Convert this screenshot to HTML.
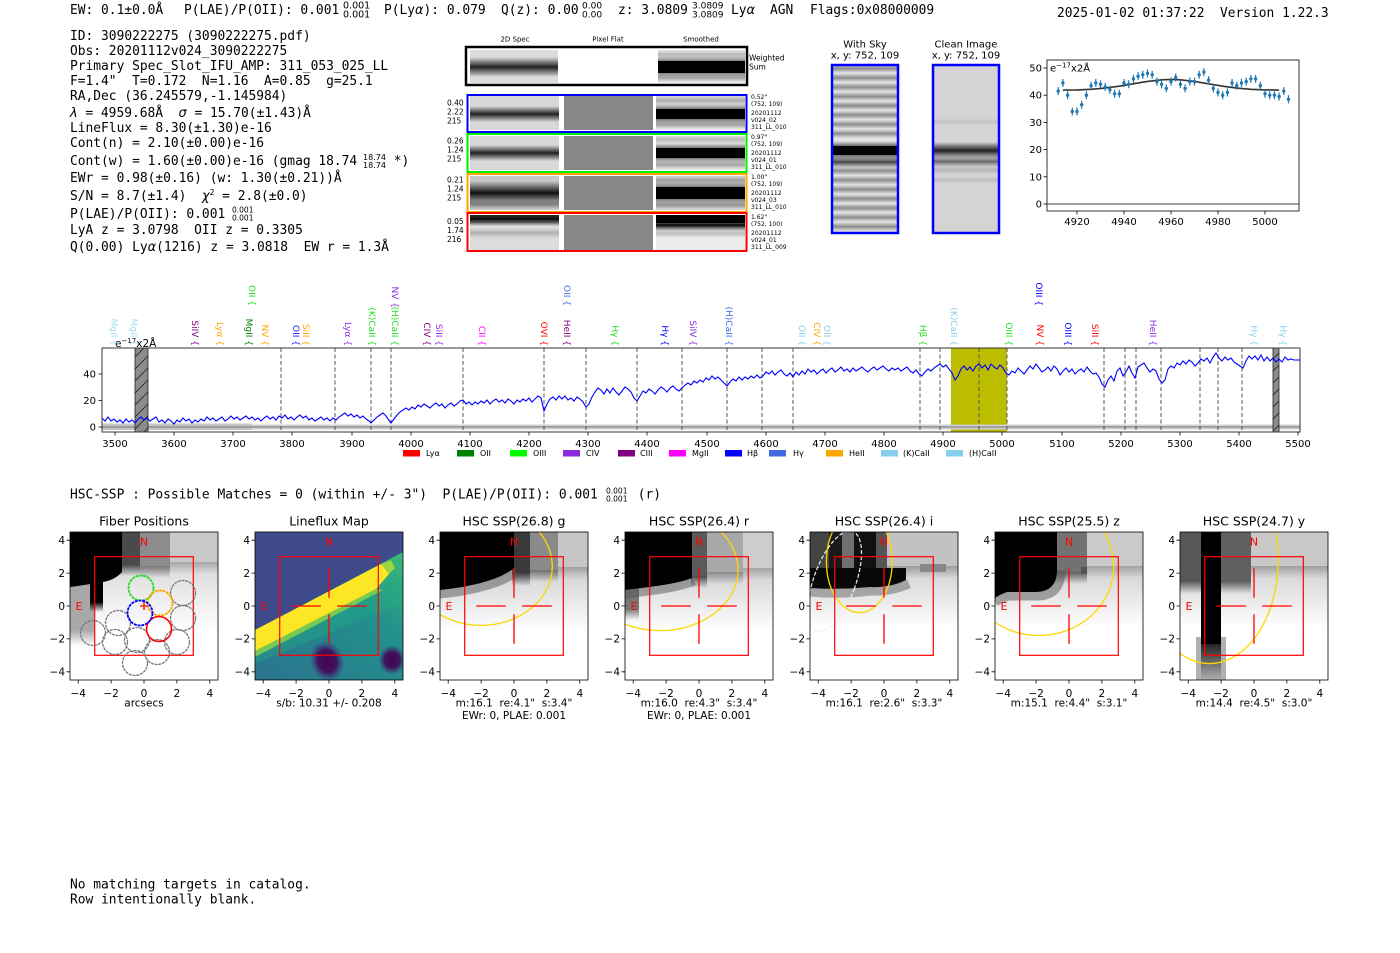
<!DOCTYPE html>
<html><head><meta charset="utf-8"><title>HETDEX detection 3090222275</title>
<style>
html,body{margin:0;padding:0;background:#fff;width:1400px;height:953px;overflow:hidden}
svg{display:block}
text{white-space:pre}
.m{font-family:"DejaVu Sans Mono","Liberation Mono",monospace;font-size:12.9px;fill:#000}
.s{font-family:"DejaVu Sans","Liberation Sans",sans-serif;fill:#000}
.tm{font-family:"DejaVu Sans","Liberation Sans",sans-serif;font-size:10.5px;fill:#000;text-anchor:middle}
.tr{font-family:"DejaVu Sans","Liberation Sans",sans-serif;font-size:10.5px;fill:#000;text-anchor:end}
.tt{font-family:"DejaVu Sans","Liberation Sans",sans-serif;font-size:12.5px;fill:#000;text-anchor:middle}
.lb{font-family:"DejaVu Sans","Liberation Sans",sans-serif;font-size:9px;text-anchor:end;dominant-baseline:central}
.lg{font-family:"DejaVu Sans","Liberation Sans",sans-serif;font-size:8px;fill:#000}
.sm{font-family:"DejaVu Sans","Liberation Sans",sans-serif;font-size:6px;fill:#000}
.nm{font-family:"DejaVu Sans","Liberation Sans",sans-serif;font-size:7.5px;fill:#000}
.rd{font-family:"DejaVu Sans","Liberation Sans",sans-serif;font-size:11px;fill:#ff0000;text-anchor:middle}
</style></head><body>
<svg width="1400" height="953" viewBox="0 0 1400 953" xmlns="http://www.w3.org/2000/svg">
<defs>
<clipPath id="pc"><rect x="0" y="0" width="148" height="148"/></clipPath>
<pattern id="hatch" width="12" height="12" patternUnits="userSpaceOnUse"><path d="M-1,13 L13,-1" stroke="#222" stroke-width="0.8"/></pattern>
<linearGradient id="fadeG" x1="0" y1="0" x2="0" y2="1"><stop offset="0" stop-color="#a8a8a8"/><stop offset="0.4" stop-color="#dadada"/><stop offset="0.8" stop-color="#fff"/></linearGradient>
<linearGradient id="fadeF" x1="0" y1="0" x2="0" y2="1"><stop offset="0" stop-color="#c0c0c0"/><stop offset="0.5" stop-color="#e4e4e4"/><stop offset="1" stop-color="#fff"/></linearGradient>
<linearGradient id="tealG" x1="1" y1="0" x2="0" y2="1"><stop offset="0" stop-color="#3bbb75"/><stop offset="0.35" stop-color="#21918c"/><stop offset="1" stop-color="#2c728e"/></linearGradient>
<linearGradient id="fB" x1="0" y1="0" x2="0" y2="1"><stop offset="0" stop-color="#000"/><stop offset="1" stop-color="#000" stop-opacity="0"/></linearGradient>
<linearGradient id="bnd" x1="0" y1="0" x2="0" y2="1"><stop offset="0" stop-color="#000" stop-opacity="0"/><stop offset="0.5" stop-color="#000"/><stop offset="1" stop-color="#000" stop-opacity="0"/></linearGradient>
<radialGradient id="blob"><stop offset="0" stop-color="#440154"/><stop offset="0.55" stop-color="#440154" stop-opacity="0.85"/><stop offset="1" stop-color="#46327e" stop-opacity="0"/></radialGradient>
</defs>

<!-- ===== header text ===== -->
<text class="m" x="70" y="14">EW: 0.1±0.0Å</text>
<text class="m" x="184" y="14">P(LAE)/P(OII): 0.001</text>
<text class="s" font-size="9.5" x="343" y="8.5">0.001</text>
<text class="s" font-size="9.5" x="343" y="17.5">0.001</text>
<text class="m" x="384" y="14">P(Ly<tspan font-style="italic" font-family="DejaVu Sans">α</tspan>): 0.079</text>
<text class="m" x="501" y="14">Q(z): 0.00</text>
<text class="s" font-size="9" x="582" y="8.5">0.00</text>
<text class="s" font-size="9" x="582" y="17.5">0.00</text>
<text class="m" x="618" y="14">z: 3.0809</text>
<text class="s" font-size="9" x="692" y="8.5">3.0809</text>
<text class="s" font-size="9" x="692" y="17.5">3.0809</text>
<text class="m" x="731" y="14">Ly<tspan font-style="italic" font-family="DejaVu Sans">α</tspan></text>
<text class="m" x="770" y="14">AGN</text>
<text class="m" x="810" y="14">Flags:0x08000009</text>
<text class="m" x="1057" y="17">2025-01-02 01:37:22  Version 1.22.3</text>

<!-- ===== left info block ===== -->
<text class="m" x="70" y="40">ID: 3090222275 (3090222275.pdf)</text>
<text class="m" x="70" y="55">Obs: 20201112v024_3090222275</text>
<text class="m" x="70" y="70">Primary Spec_Slot_IFU_AMP: 311_053_025_LL</text>
<text class="m" x="70" y="85">F=1.4&quot;  T=0.172  N=1.16  A=0.85  g=25.1</text>
<text class="m" x="70" y="100">RA,Dec (36.245579,-1.145984)</text>
<text class="m" x="70" y="117"><tspan font-style="italic" font-family="DejaVu Sans">λ</tspan> = 4959.68Å  <tspan font-style="italic" font-family="DejaVu Sans">σ</tspan> = 15.70(±1.43)Å</text>
<text class="m" x="70" y="132">LineFlux = 8.30(±1.30)e-16</text>
<text class="m" x="70" y="147">Cont(n) = 2.10(±0.00)e-16</text>
<text class="m" x="70" y="165">Cont(w) = 1.60(±0.00)e-16 (gmag 18.74</text>
<text class="s" font-size="8" x="363" y="160">18.74</text>
<text class="s" font-size="8" x="363" y="168">18.74</text>
<text class="m" x="386" y="165"> *)</text>
<text class="m" x="70" y="182">EWr = 0.98(±0.16) (w: 1.30(±0.21))Å</text>
<text class="m" x="70" y="200">S/N = 8.7(±1.4)  <tspan font-style="italic" font-family="DejaVu Sans">χ</tspan><tspan font-size="8" dy="-5">2</tspan><tspan dy="5"> = 2.8(±0.0)</tspan></text>
<text class="m" x="70" y="218">P(LAE)/P(OII): 0.001</text>
<text class="s" font-size="7.5" x="232" y="212.5">0.001</text>
<text class="s" font-size="7.5" x="232" y="220.5">0.001</text>
<text class="m" x="70" y="234">LyA z = 3.0798  OII z = 0.3305</text>
<text class="m" x="70" y="251">Q(0.00) Ly<tspan font-style="italic" font-family="DejaVu Sans">α</tspan>(1216) z = 3.0818  EW r = 1.3Å</text>

<!-- ===== 2D spectra block ===== -->
<text class="s" font-size="7" x="515" y="41.5" text-anchor="middle">2D Spec</text>
<text class="s" font-size="7" x="608" y="41.5" text-anchor="middle">Pixel Flat</text>
<text class="s" font-size="7" x="701" y="41.5" text-anchor="middle">Smoothed</text>
<!-- weighted sum -->
<rect x="466" y="47" width="281" height="38" fill="#fff"/>
<rect x="470" y="50" width="88" height="33" fill="#dcdcdc"/>
<rect x="470" y="57" width="88" height="20" fill="url(#bnd)" opacity="0.85"/>
<rect x="658" y="50" width="87" height="33" fill="#e8e8e8"/>
<rect x="658" y="50" width="87" height="9" fill="url(#bnd)" opacity="0.22"/>
<rect x="658" y="56" width="87" height="22" fill="url(#bnd)"/>
<rect x="658" y="61" width="87" height="12" fill="#000"/>
<rect x="658" y="74" width="87" height="8" fill="url(#bnd)" opacity="0.3"/>
<rect x="466" y="47" width="281" height="38" fill="none" stroke="#000" stroke-width="2.5"/>
<text class="s" font-size="7.5" x="749" y="60.5">Weighted</text>
<text class="s" font-size="7.5" x="749" y="69.5">Sum</text>

<!-- rows -->
<!-- blue -->
<rect x="470" y="96" width="89" height="34" fill="#d8d8d8"/>
<rect x="470" y="106" width="89" height="16" fill="url(#bnd)" opacity="0.85"/>
<rect x="564" y="96" width="89" height="34" fill="#878787"/>
<rect x="656" y="96" width="89" height="34" fill="#e6e6e6"/>
<rect x="656" y="95" width="89" height="11" fill="url(#bnd)" opacity="0.25"/>
<rect x="656" y="104" width="89" height="20" fill="url(#bnd)"/>
<rect x="656" y="109" width="89" height="10" fill="#000"/>
<rect x="656" y="120" width="89" height="9" fill="url(#bnd)" opacity="0.3"/>
<!-- green -->
<rect x="470" y="136" width="89" height="34" fill="#d8d8d8"/>
<rect x="470" y="145" width="89" height="16" fill="url(#bnd)" opacity="0.85"/>
<rect x="564" y="136" width="89" height="34" fill="#878787"/>
<rect x="656" y="136" width="89" height="34" fill="#e6e6e6"/>
<rect x="656" y="135" width="89" height="9" fill="url(#bnd)" opacity="0.2"/>
<rect x="656" y="143" width="89" height="20" fill="url(#bnd)"/>
<rect x="656" y="148" width="89" height="10" fill="#000"/>
<rect x="656" y="160" width="89" height="9" fill="url(#bnd)" opacity="0.3"/>
<!-- orange -->
<rect x="470" y="176" width="89" height="34" fill="#c8c8c8"/>
<rect x="470" y="181" width="89" height="24" fill="url(#bnd)" opacity="0.92"/>
<rect x="470" y="200" width="89" height="9" fill="url(#bnd)" opacity="0.35"/>
<rect x="564" y="176" width="89" height="34" fill="#878787"/>
<rect x="656" y="176" width="89" height="34" fill="#e0e0e0"/>
<rect x="656" y="175" width="89" height="11" fill="url(#bnd)" opacity="0.3"/>
<rect x="656" y="182" width="89" height="22" fill="url(#bnd)"/>
<rect x="656" y="187" width="89" height="12" fill="#000"/>
<rect x="656" y="200" width="89" height="10" fill="url(#bnd)" opacity="0.35"/>
<!-- red -->
<rect x="470" y="215" width="89" height="35" fill="#dcdcdc"/>
<rect x="470" y="215" width="89" height="5" fill="#222"/>
<rect x="470" y="216" width="89" height="10" fill="url(#bnd)" opacity="0.8"/>
<rect x="470" y="228" width="89" height="10" fill="url(#bnd)" opacity="0.2"/>
<rect x="564" y="215" width="89" height="35" fill="#878787"/>
<rect x="656" y="215" width="89" height="35" fill="#ececec"/>
<rect x="656" y="215" width="89" height="8" fill="#000"/>
<rect x="656" y="219" width="89" height="12" fill="url(#bnd)"/>
<rect x="656" y="228" width="89" height="10" fill="url(#bnd)" opacity="0.2"/>

<rect x="559" y="96" width="5" height="34" fill="#fff"/><rect x="653" y="96" width="3" height="34" fill="#fff"/>
<rect x="559" y="136" width="5" height="34" fill="#fff"/><rect x="653" y="136" width="3" height="34" fill="#fff"/>
<rect x="559" y="176" width="5" height="34" fill="#fff"/><rect x="653" y="176" width="3" height="34" fill="#fff"/>
<rect x="559" y="215" width="5" height="35" fill="#fff"/><rect x="653" y="215" width="3" height="35" fill="#fff"/>
<rect x="467.5" y="95" width="279" height="37" fill="none" stroke="#0000ff" stroke-width="2"/>
<rect x="467.5" y="134" width="279" height="38" fill="none" stroke="#00ee00" stroke-width="2"/>
<rect x="467.5" y="174" width="279" height="38" fill="none" stroke="#ffa500" stroke-width="2"/>
<rect x="467.5" y="213" width="279" height="38" fill="none" stroke="#ff0000" stroke-width="2"/>

<text class="nm" x="447" y="105.5">0.40</text><text class="nm" x="447" y="114.5">2.22</text><text class="nm" x="447" y="123.5">215</text>
<text class="nm" x="447" y="143.5">0.26</text><text class="nm" x="447" y="152.5">1.24</text><text class="nm" x="447" y="161.5">215</text>
<text class="nm" x="447" y="182.5">0.21</text><text class="nm" x="447" y="191.5">1.24</text><text class="nm" x="447" y="200.5">215</text>
<text class="nm" x="447" y="224">0.05</text><text class="nm" x="447" y="233">1.74</text><text class="nm" x="447" y="242">216</text>

<text class="sm" x="751" y="99">0.52&quot;</text><text class="sm" x="751" y="106">(752, 109)</text><text class="sm" x="751" y="115">20201112</text><text class="sm" x="751" y="122">v024_02</text><text class="sm" x="751" y="129">311_LL_010</text>
<text class="sm" x="751" y="139">0.97&quot;</text><text class="sm" x="751" y="146">(752, 109)</text><text class="sm" x="751" y="155">20201112</text><text class="sm" x="751" y="162">v024_01</text><text class="sm" x="751" y="169">311_LL_010</text>
<text class="sm" x="751" y="179">1.00&quot;</text><text class="sm" x="751" y="186">(752, 109)</text><text class="sm" x="751" y="195">20201112</text><text class="sm" x="751" y="202">v024_03</text><text class="sm" x="751" y="209">311_LL_010</text>
<text class="sm" x="751" y="219">1.62&quot;</text><text class="sm" x="751" y="226">(752, 100)</text><text class="sm" x="751" y="235">20201112</text><text class="sm" x="751" y="242">v024_01</text><text class="sm" x="751" y="249">311_LL_009</text>

<!-- ===== With Sky / Clean image ===== -->
<text class="s" font-size="10" x="865" y="47.5" text-anchor="middle">With Sky</text>
<text class="s" font-size="10" x="865" y="58.5" text-anchor="middle">x, y: 752, 109</text>
<text class="s" font-size="10" x="966" y="47.5" text-anchor="middle">Clean Image</text>
<text class="s" font-size="10" x="966" y="58.5" text-anchor="middle">x, y: 752, 109</text>
<rect x="832" y="65" width="66" height="168" fill="#e2e2e2"/>
<g opacity="0.38">
<rect x="832" y="64" width="66" height="9" fill="url(#bnd)"/>
<rect x="832" y="73.3" width="66" height="9" fill="url(#bnd)"/>
<rect x="832" y="82.6" width="66" height="9" fill="url(#bnd)"/>
<rect x="832" y="91.9" width="66" height="9" fill="url(#bnd)"/>
<rect x="832" y="101.2" width="66" height="9" fill="url(#bnd)"/>
<rect x="832" y="110.5" width="66" height="9" fill="url(#bnd)"/>
<rect x="832" y="119.8" width="66" height="9" fill="url(#bnd)"/>
<rect x="832" y="129.1" width="66" height="9" fill="url(#bnd)"/>
<rect x="832" y="166.3" width="66" height="9" fill="url(#bnd)"/>
<rect x="832" y="175.6" width="66" height="9" fill="url(#bnd)"/>
<rect x="832" y="184.9" width="66" height="9" fill="url(#bnd)"/>
<rect x="832" y="194.2" width="66" height="9" fill="url(#bnd)"/>
<rect x="832" y="203.5" width="66" height="9" fill="url(#bnd)"/>
<rect x="832" y="212.8" width="66" height="9" fill="url(#bnd)"/>
<rect x="832" y="222.1" width="66" height="9" fill="url(#bnd)"/>
</g>
<rect x="832" y="141" width="66" height="19" fill="url(#bnd)"/>
<rect x="832" y="146" width="66" height="9" fill="#050505"/>
<rect x="832" y="156" width="66" height="12" fill="url(#bnd)" opacity="0.7"/>
<rect x="832" y="65" width="66" height="168" fill="none" stroke="#0000ff" stroke-width="2.5"/>
<rect x="933" y="65" width="66" height="168" fill="#d4d4d4"/>
<rect x="933" y="142" width="66" height="17" fill="url(#bnd)" opacity="0.85"/>
<rect x="933" y="156" width="66" height="11" fill="url(#bnd)" opacity="0.5"/>
<rect x="933" y="166" width="66" height="8" fill="url(#bnd)" opacity="0.15"/>
<rect x="933" y="176" width="66" height="8" fill="url(#bnd)" opacity="0.1"/>
<rect x="933" y="118" width="66" height="8" fill="url(#bnd)" opacity="0.08"/>
<rect x="933" y="65" width="66" height="168" fill="none" stroke="#0000ff" stroke-width="2.5"/>

<!-- ===== zoom line fit plot ===== -->
<rect x="1047" y="60" width="252" height="151" fill="#fff"/>
<line x1="1047" y1="204" x2="1299" y2="204" stroke="#666" stroke-width="1.2"/>
<polyline fill="none" stroke="#333" stroke-width="1.6" points="1062.9,90.1 1077,89.9 1091.1,89.3 1105.2,88.1 1119.3,86.2 1133.4,83.8 1147.5,81.4 1161.6,79.8 1171,79.4 1180.4,79.8 1194.5,81.4 1208.6,83.8 1222.7,86.2 1236.8,88.1 1250.9,89.3 1265,89.9 1279.1,90.1"/>
<path stroke="#1f77b4" stroke-width="1.2" fill="none" d="M1058.2,87.1V95.1M1062.9,79V87M1067.6,91.2V99.2M1072.3,107.5V115.5M1077,107.5V115.5M1081.7,100.7V108.7M1086.4,91.2V99.2M1091.1,81.7V89.7M1095.8,79V87M1100.5,80.3V88.3M1105.2,83V91M1109.9,85.8V93.8M1114.6,89.8V97.8M1119.3,89.8V97.8M1124,79V87M1128.7,80.3V88.3M1133.4,74.9V82.9M1138.1,72.2V80.2M1142.8,70.8V78.8M1147.5,69.4V77.4M1152.2,70.8V78.8M1156.9,77.6V85.6M1161.6,80.3V88.3M1166.3,84.4V92.4M1171,77.6V85.6M1175.7,73.5V81.5M1180.4,80.3V88.3M1185.1,84.4V92.4M1189.8,77.6V85.6M1194.5,77.6V85.6M1199.2,70.8V78.8M1203.9,68.1V76.1M1208.6,76.2V84.2M1213.3,84.4V92.4M1218,88.5V96.5M1222.7,91.2V99.2M1227.4,88.5V96.5M1232.1,79V87M1236.8,81.7V89.7M1241.5,79V87M1246.2,77.6V85.6M1250.9,74.9V82.9M1255.6,74.9V82.9M1260.3,81.7V89.7M1265,89.8V97.8M1269.7,91.2V99.2M1274.4,91.2V99.2M1279.1,92.6V100.6M1283.8,87.1V95.1M1288.5,95.3V103.3"/>
<g fill="#1f77b4">
<circle cx="1058.2" cy="91.1" r="1.7"/><circle cx="1062.9" cy="83" r="1.7"/><circle cx="1067.6" cy="95.2" r="1.7"/><circle cx="1072.3" cy="111.5" r="1.7"/><circle cx="1077" cy="111.5" r="1.7"/><circle cx="1081.7" cy="104.7" r="1.7"/><circle cx="1086.4" cy="95.2" r="1.7"/><circle cx="1091.1" cy="85.7" r="1.7"/><circle cx="1095.8" cy="83" r="1.7"/><circle cx="1100.5" cy="84.3" r="1.7"/><circle cx="1105.2" cy="87" r="1.7"/><circle cx="1109.9" cy="89.8" r="1.7"/><circle cx="1114.6" cy="93.8" r="1.7"/><circle cx="1119.3" cy="93.8" r="1.7"/><circle cx="1124" cy="83" r="1.7"/><circle cx="1128.7" cy="84.3" r="1.7"/><circle cx="1133.4" cy="78.9" r="1.7"/><circle cx="1138.1" cy="76.2" r="1.7"/><circle cx="1142.8" cy="74.8" r="1.7"/><circle cx="1147.5" cy="73.4" r="1.7"/><circle cx="1152.2" cy="74.8" r="1.7"/><circle cx="1156.9" cy="81.6" r="1.7"/><circle cx="1161.6" cy="84.3" r="1.7"/><circle cx="1166.3" cy="88.4" r="1.7"/><circle cx="1171" cy="81.6" r="1.7"/><circle cx="1175.7" cy="77.5" r="1.7"/><circle cx="1180.4" cy="84.3" r="1.7"/><circle cx="1185.1" cy="88.4" r="1.7"/><circle cx="1189.8" cy="81.6" r="1.7"/><circle cx="1194.5" cy="81.6" r="1.7"/><circle cx="1199.2" cy="74.8" r="1.7"/><circle cx="1203.9" cy="72.1" r="1.7"/><circle cx="1208.6" cy="80.2" r="1.7"/><circle cx="1213.3" cy="88.4" r="1.7"/><circle cx="1218" cy="92.5" r="1.7"/><circle cx="1222.7" cy="95.2" r="1.7"/><circle cx="1227.4" cy="92.5" r="1.7"/><circle cx="1232.1" cy="83" r="1.7"/><circle cx="1236.8" cy="85.7" r="1.7"/><circle cx="1241.5" cy="83" r="1.7"/><circle cx="1246.2" cy="81.6" r="1.7"/><circle cx="1250.9" cy="78.9" r="1.7"/><circle cx="1255.6" cy="78.9" r="1.7"/><circle cx="1260.3" cy="85.7" r="1.7"/><circle cx="1265" cy="93.8" r="1.7"/><circle cx="1269.7" cy="95.2" r="1.7"/><circle cx="1274.4" cy="95.2" r="1.7"/><circle cx="1279.1" cy="96.6" r="1.7"/><circle cx="1283.8" cy="91.1" r="1.7"/><circle cx="1288.5" cy="99.3" r="1.7"/>
</g>
<rect x="1047" y="60" width="252" height="151" fill="none" stroke="#333" stroke-width="1"/>
<text class="s" font-size="10" x="1050" y="71.5">e<tspan font-size="7" dy="-4">−17</tspan><tspan dy="4">x2Å</tspan></text>
<g stroke="#000" stroke-width="0.8">
<line x1="1043.5" y1="204" x2="1047" y2="204"/><line x1="1043.5" y1="176.8" x2="1047" y2="176.8"/><line x1="1043.5" y1="149.6" x2="1047" y2="149.6"/><line x1="1043.5" y1="122.4" x2="1047" y2="122.4"/><line x1="1043.5" y1="95.2" x2="1047" y2="95.2"/><line x1="1043.5" y1="68" x2="1047" y2="68"/>
<line x1="1077" y1="211" x2="1077" y2="214.5"/><line x1="1124" y1="211" x2="1124" y2="214.5"/><line x1="1171" y1="211" x2="1171" y2="214.5"/><line x1="1218" y1="211" x2="1218" y2="214.5"/><line x1="1265" y1="211" x2="1265" y2="214.5"/>
</g>
<g class="s" font-size="10">
<text x="1042" y="207.5" text-anchor="end">0</text><text x="1042" y="180.3" text-anchor="end">10</text><text x="1042" y="153.1" text-anchor="end">20</text><text x="1042" y="125.9" text-anchor="end">30</text><text x="1042" y="98.7" text-anchor="end">40</text><text x="1042" y="71.5" text-anchor="end">50</text>
<text x="1077" y="225" text-anchor="middle">4920</text><text x="1124" y="225" text-anchor="middle">4940</text><text x="1171" y="225" text-anchor="middle">4960</text><text x="1218" y="225" text-anchor="middle">4980</text><text x="1265" y="225" text-anchor="middle">5000</text>
</g>

<!-- ===== main spectrum ===== -->
<rect x="102" y="348" width="1198" height="84" fill="#fff"/>
<rect x="951" y="348" width="56" height="84" fill="#bdbd00"/>
<rect x="102" y="424.5" width="1198" height="5" fill="#cfcfcf"/>
<rect x="102" y="423.5" width="150" height="6.5" fill="#c4c4c4"/>
<line x1="102" y1="427" x2="1300" y2="427" stroke="#777" stroke-width="1"/>
<g stroke="#555" stroke-width="1" stroke-dasharray="4 2.5">
<line x1="281" y1="348" x2="281" y2="432"/><line x1="335" y1="348" x2="335" y2="432"/><line x1="371" y1="348" x2="371" y2="432"/><line x1="391" y1="348" x2="391" y2="432"/><line x1="463" y1="348" x2="463" y2="432"/><line x1="544" y1="348" x2="544" y2="432"/><line x1="586" y1="348" x2="586" y2="432"/><line x1="637" y1="348" x2="637" y2="432"/><line x1="682" y1="348" x2="682" y2="432"/><line x1="727" y1="348" x2="727" y2="432"/><line x1="762" y1="348" x2="762" y2="432"/><line x1="793" y1="348" x2="793" y2="432"/><line x1="920" y1="348" x2="920" y2="432"/><line x1="940" y1="348" x2="940" y2="432"/><line x1="979" y1="348" x2="979" y2="432"/><line x1="1007" y1="348" x2="1007" y2="432"/><line x1="1104" y1="348" x2="1104" y2="432"/><line x1="1125" y1="348" x2="1125" y2="432"/><line x1="1136" y1="348" x2="1136" y2="432"/><line x1="1161" y1="348" x2="1161" y2="432"/><line x1="1200" y1="348" x2="1200" y2="432"/><line x1="1218" y1="348" x2="1218" y2="432"/><line x1="1242" y1="348" x2="1242" y2="432"/>
</g>
<rect x="135" y="348" width="13" height="84" fill="#8c8c8c" stroke="#222" stroke-width="0.8"/>
<rect x="135" y="348" width="13" height="84" fill="url(#hatch)"/>
<rect x="1273" y="348" width="6" height="84" fill="#8c8c8c" stroke="#222" stroke-width="0.8"/>
<rect x="1273" y="348" width="6" height="84" fill="url(#hatch)"/>
<polyline fill="none" stroke="#0000ff" stroke-width="1.1" points="102,418 105,421 108,417 111,421 114,419 117,422 120,420 123,423 126,419 129,422 132,420 135,423 138,419 141,417 144,420 147,418 150,421 153,419 156,417 159,422 162,420 165,423 168,419 171,421 174,424 177,420 180,422 183,418 186,421 189,419 192,423 195,420 198,422 201,419 204,421 207,417 210,420 213,418 216,421 219,419 222,417 225,421 228,419 231,416 234,419 237,417 240,420 243,418 246,416 249,419 252,417 255,420 258,418 261,421 264,418 267,416 270,419 273,417 276,420 279,416 282,418 285,415 288,419 291,417 294,420 297,417 300,415 303,418 306,416 309,420 312,418 315,421 318,419 321,417 324,420 327,418 330,421 333,418 336,420 339,417 342,415 345,413 348,416 351,414 354,417 357,415 360,418 363,416 366,419 369,421 371,423 374,420 377,417 380,415 383,413 386,416 388,419 391,423 394,419 397,415 400,412 403,410 406,408 409,410 412,407 415,409 418,405 421,407 424,404 427,406 430,408 433,405 436,403 439,406 442,404 445,408 448,405 451,403 454,406 457,404 460,401 463,400 466,404 469,402 472,405 475,402 478,404 481,401 484,403 487,400 490,404 493,401 496,399 499,402 502,400 505,403 508,399 511,401 514,404 517,400 520,402 523,399 526,401 529,398 532,402 535,399 538,396 541,398 544,411 547,404 550,399 553,397 556,400 559,396 562,399 565,396 568,400 571,398 574,401 577,397 580,399 583,402 586,407 589,404 592,397 595,392 598,388 601,390 604,394 607,389 610,393 613,388 616,392 619,395 622,391 625,387 628,389 631,392 634,398 637,401 640,396 643,391 646,393 649,389 652,391 655,394 658,390 661,387 664,389 667,392 670,388 673,386 676,389 679,391 682,388 685,385 688,383 691,385 694,381 697,383 700,380 703,382 706,378 709,380 712,376 715,379 718,377 721,380 724,383 727,386 730,382 733,379 736,381 739,377 742,380 745,377 748,379 751,376 754,378 757,375 760,378 763,376 766,372 769,374 772,371 775,375 778,372 781,370 784,374 787,376 790,373 793,377 796,372 799,375 802,371 805,374 808,369 811,372 814,370 817,374 820,371 823,369 826,373 829,370 832,368 835,372 838,370 841,367 844,371 847,369 850,372 853,368 856,371 859,369 862,367 865,370 868,372 871,369 874,367 877,370 880,368 883,366 886,369 889,371 892,368 895,370 898,368 901,371 904,369 907,367 910,371 913,373 916,370 919,374 922,376 925,372 928,369 931,371 934,368 937,366 940,364 943,367 946,365 949,369 952,373 955,380 958,376 961,369 964,366 967,370 970,367 973,371 976,366 979,364 982,368 985,365 988,370 991,364 994,367 997,369 1000,365 1003,368 1006,373 1009,375 1012,371 1015,373 1018,368 1021,371 1024,374 1027,370 1030,366 1033,369 1036,364 1039,368 1042,372 1045,370 1048,367 1051,371 1054,366 1057,369 1060,375 1063,371 1066,368 1069,372 1072,369 1075,374 1078,371 1081,369 1084,372 1087,367 1090,371 1093,374 1096,373 1099,377 1102,384 1105,387 1108,380 1111,376 1114,381 1117,371 1120,368 1123,376 1126,372 1129,366 1132,373 1135,378 1138,367 1141,365 1144,363 1147,368 1150,372 1153,369 1156,371 1159,379 1162,383 1165,380 1168,369 1171,366 1174,368 1177,363 1180,365 1183,361 1186,364 1189,360 1192,362 1195,366 1198,363 1201,359 1204,361 1207,358 1210,363 1213,357 1216,353 1219,358 1222,361 1225,357 1228,360 1231,358 1234,362 1237,364 1240,366 1243,368 1246,361 1249,356 1252,359 1255,356 1258,360 1261,355 1264,361 1267,357 1270,361 1273,358 1276,362 1279,359 1282,362 1285,357 1288,360 1291,359 1294,360 1297,360 1300,360"/>
<rect x="102" y="348" width="1198" height="84" fill="none" stroke="#333" stroke-width="1"/>
<text class="s" font-size="10.5" x="115" y="347">e<tspan font-size="7" dy="-4">−17</tspan><tspan dy="4">x2Å</tspan></text>
<g stroke="#000" stroke-width="0.8">
<line x1="98.5" y1="427" x2="102" y2="427"/><line x1="98.5" y1="400.5" x2="102" y2="400.5"/><line x1="98.5" y1="374" x2="102" y2="374"/>
<line x1="115" y1="432" x2="115" y2="435.5"/><line x1="174" y1="432" x2="174" y2="435.5"/><line x1="233" y1="432" x2="233" y2="435.5"/><line x1="292" y1="432" x2="292" y2="435.5"/><line x1="352" y1="432" x2="352" y2="435.5"/><line x1="411" y1="432" x2="411" y2="435.5"/><line x1="470" y1="432" x2="470" y2="435.5"/><line x1="529" y1="432" x2="529" y2="435.5"/><line x1="588" y1="432" x2="588" y2="435.5"/><line x1="647" y1="432" x2="647" y2="435.5"/><line x1="707" y1="432" x2="707" y2="435.5"/><line x1="766" y1="432" x2="766" y2="435.5"/><line x1="825" y1="432" x2="825" y2="435.5"/><line x1="884" y1="432" x2="884" y2="435.5"/><line x1="943" y1="432" x2="943" y2="435.5"/><line x1="1002" y1="432" x2="1002" y2="435.5"/><line x1="1062" y1="432" x2="1062" y2="435.5"/><line x1="1121" y1="432" x2="1121" y2="435.5"/><line x1="1180" y1="432" x2="1180" y2="435.5"/><line x1="1239" y1="432" x2="1239" y2="435.5"/><line x1="1298" y1="432" x2="1298" y2="435.5"/>
</g>
<g class="s" font-size="10" text-anchor="middle">
<text x="96" y="430.5" text-anchor="end">0</text><text x="96" y="404" text-anchor="end">20</text><text x="96" y="377.5" text-anchor="end">40</text>
<text x="115" y="447">3500</text><text x="174" y="447">3600</text><text x="233" y="447">3700</text><text x="292" y="447">3800</text><text x="352" y="447">3900</text><text x="411" y="447">4000</text><text x="470" y="447">4100</text><text x="529" y="447">4200</text><text x="588" y="447">4300</text><text x="647" y="447">4400</text><text x="707" y="447">4500</text><text x="766" y="447">4600</text><text x="825" y="447">4700</text><text x="884" y="447">4800</text><text x="943" y="447">4900</text><text x="1002" y="447">5000</text><text x="1062" y="447">5100</text><text x="1121" y="447">5200</text><text x="1180" y="447">5300</text><text x="1239" y="447">5400</text><text x="1298" y="447">5500</text>
</g>

<!-- line labels -->
<g class="lb">
<text transform="translate(113,346) rotate(90)" fill="#87ceeb" opacity="0.75">MgII {</text>
<text transform="translate(133,346) rotate(90)" fill="#87ceeb" opacity="0.75">MgII {</text>
<text transform="translate(194,346) rotate(90)" fill="#800080">SiIV {</text>
<text transform="translate(219,346) rotate(90)" fill="#ffa500">Lyα {</text>
<text transform="translate(248,346) rotate(90)" fill="#008000">MgII {</text>
<text transform="translate(264,346) rotate(90)" fill="#ffa500">NV {</text>
<text transform="translate(295,346) rotate(90)" fill="#2020ff">OII {</text>
<text transform="translate(305,346) rotate(90)" fill="#ffa500">SiII {</text>
<text transform="translate(347,346) rotate(90)" fill="#8a2be2">Lyα {</text>
<text transform="translate(371,346) rotate(90)" fill="#22dd22">(K)CaII {</text>
<text transform="translate(394,346) rotate(90)" fill="#22dd22">(H)CaII {</text>
<text transform="translate(426,346) rotate(90)" fill="#800080">CIV {</text>
<text transform="translate(438,346) rotate(90)" fill="#8a2be2">SiII {</text>
<text transform="translate(481,346) rotate(90)" fill="#ff00ff">CII {</text>
<text transform="translate(543,346) rotate(90)" fill="#ff0000">OVI {</text>
<text transform="translate(566,346) rotate(90)" fill="#800080">HeII {</text>
<text transform="translate(614,346) rotate(90)" fill="#22dd22">Hγ {</text>
<text transform="translate(664,346) rotate(90)" fill="#0000ff">Hγ {</text>
<text transform="translate(692,346) rotate(90)" fill="#8a2be2">SiIV {</text>
<text transform="translate(728,346) rotate(90)" fill="#4169e1">(H)CaII {</text>
<text transform="translate(801,346) rotate(90)" fill="#87ceeb">OII {</text>
<text transform="translate(816,346) rotate(90)" fill="#ffa500">CIV {</text>
<text transform="translate(826,346) rotate(90)" fill="#87ceeb">OII {</text>
<text transform="translate(922,346) rotate(90)" fill="#22dd22">Hβ {</text>
<text transform="translate(953,346) rotate(90)" fill="#87ceeb">(K)CaII {</text>
<text transform="translate(1008,346) rotate(90)" fill="#22dd22">OIII {</text>
<text transform="translate(1039,346) rotate(90)" fill="#ff0000">NV {</text>
<text transform="translate(1067,346) rotate(90)" fill="#0000ff">OIII {</text>
<text transform="translate(1094,346) rotate(90)" fill="#ff0000">SiII {</text>
<text transform="translate(1152,346) rotate(90)" fill="#8a2be2">HeII {</text>
<text transform="translate(1253,346) rotate(90)" fill="#87ceeb">Hγ {</text>
<text transform="translate(1282,346) rotate(90)" fill="#87ceeb">Hγ {</text>
<text transform="translate(251,306) rotate(90)" fill="#22dd22">OII {</text>
<text transform="translate(394,308) rotate(90)" fill="#8a2be2">NV {</text>
<text transform="translate(566,306) rotate(90)" fill="#4169e1">OII {</text>
<text transform="translate(1038,306) rotate(90)" fill="#0000ff">OIII {</text>
</g>

<!-- legend -->
<rect x="403" y="450" width="17" height="6.5" fill="#ff0000"/><text class="lg" x="426" y="456">Lyα</text>
<rect x="457" y="450" width="17" height="6.5" fill="#008000"/><text class="lg" x="480" y="456">OII</text>
<rect x="510" y="450" width="17" height="6.5" fill="#00ff00"/><text class="lg" x="533" y="456">OIII</text>
<rect x="563" y="450" width="17" height="6.5" fill="#8a2be2"/><text class="lg" x="586" y="456">CIV</text>
<rect x="618" y="450" width="17" height="6.5" fill="#800080"/><text class="lg" x="640" y="456">CIII</text>
<rect x="669" y="450" width="17" height="6.5" fill="#ff00ff"/><text class="lg" x="692" y="456">MgII</text>
<rect x="725" y="450" width="17" height="6.5" fill="#0000ff"/><text class="lg" x="747" y="456">Hβ</text>
<rect x="769" y="450" width="17" height="6.5" fill="#4169e1"/><text class="lg" x="793" y="456">Hγ</text>
<rect x="826" y="450" width="17" height="6.5" fill="#ffa500"/><text class="lg" x="849" y="456">HeII</text>
<rect x="881" y="450" width="17" height="6.5" fill="#87ceeb"/><text class="lg" x="903" y="456">(K)CaII</text>
<rect x="946" y="450" width="17" height="6.5" fill="#87ceeb"/><text class="lg" x="969" y="456">(H)CaII</text>

<!-- ===== HSC header ===== -->
<text class="m" x="70" y="498.5">HSC-SSP : Possible Matches = 0 (within +/- 3&quot;)  P(LAE)/P(OII): 0.001</text>
<text class="s" font-size="7.5" x="606" y="493.5">0.001</text>
<text class="s" font-size="7.5" x="606" y="501.5">0.001</text>
<text class="m" x="630" y="498.5"> (r)</text>

<!-- ===== Panel 1: Fiber Positions ===== -->
<g transform="translate(70,532)">
<g clip-path="url(#pc)">
<rect width="148" height="148" fill="#fff"/>
<rect x="0" y="0" width="148" height="100" fill="url(#fadeF)"/>
<rect x="0" y="48" width="24" height="50" fill="#a8a8a8"/>
<rect x="0" y="98" width="24" height="16" fill="url(#fB)" opacity="0.34"/>
<rect x="50" y="0" width="20" height="32" fill="#4a4a4a"/>
<rect x="50" y="32" width="20" height="12" fill="url(#fB)" opacity="0.7"/>
<rect x="70" y="0" width="30" height="34" fill="#8c8c8c"/>
<rect x="70" y="34" width="30" height="12" fill="url(#fB)" opacity="0.45"/>
<rect x="100" y="0" width="48" height="30" fill="#c8c8c8"/>
<rect x="100" y="30" width="48" height="12" fill="url(#fB)" opacity="0.22"/>
<path d="M0,0 H52 V40 Q45,48 33,50 V70 H20 V52 Q8,54 0,55 Z" fill="#000"/>
<rect x="20" y="70" width="13" height="10" fill="url(#fB)"/>
<rect x="24.7" y="24.7" width="98.6" height="98.6" fill="none" stroke="#ff0000" stroke-width="1.2"/>
<g fill="none" stroke="#7a7a7a" stroke-width="1.3" stroke-dasharray="3 0.8">
<circle cx="113" cy="61" r="12.5"/><circle cx="113" cy="86" r="12.5"/><circle cx="107" cy="110" r="12.5"/><circle cx="87" cy="120" r="12.5"/><circle cx="65" cy="131" r="12.5"/><circle cx="45" cy="110" r="12.5"/><circle cx="23" cy="101" r="12.5"/><circle cx="48" cy="91" r="12.5"/><circle cx="67" cy="108" r="12.5"/>
</g>
<circle cx="71" cy="56" r="12.5" fill="none" stroke="#22dd22" stroke-width="1.8" stroke-dasharray="3 0.8"/>
<circle cx="90" cy="71" r="12.5" fill="none" stroke="#ffa500" stroke-width="1.8" stroke-dasharray="3 0.8"/>
<circle cx="89" cy="97" r="12.5" fill="none" stroke="#ff0000" stroke-width="1.6"/>
<circle cx="70" cy="81" r="12.5" fill="none" stroke="#0000ff" stroke-width="1.8" stroke-dasharray="3 0.8"/>
<path d="M70,74 H78 M74,70 V78" stroke="#ff0000" stroke-width="1.3"/>
<text class="rd" x="74" y="13.5">N</text>
<text class="rd" x="9" y="78">E</text>
</g>
<rect width="148" height="148" fill="none" stroke="#000" stroke-width="0.8"/>
<path d="M8.2,148V151.5M41.1,148V151.5M74,148V151.5M106.9,148V151.5M139.8,148V151.5M0,8.2H-3.5M0,41.1H-3.5M0,74H-3.5M0,106.9H-3.5M0,139.8H-3.5" stroke="#000" stroke-width="0.8"/>
<text class="tm" x="8.2" y="165">−4</text><text class="tm" x="41.1" y="165">−2</text><text class="tm" x="74" y="165">0</text><text class="tm" x="106.9" y="165">2</text><text class="tm" x="139.8" y="165">4</text>
<text class="tr" x="-5" y="12">4</text><text class="tr" x="-5" y="44.9">2</text><text class="tr" x="-5" y="77.8">0</text><text class="tr" x="-5" y="110.7">−2</text><text class="tr" x="-5" y="143.6">−4</text>
<text class="tt" x="74" y="-6.5">Fiber Positions</text>
<text class="tm" x="74" y="174.5">arcsecs</text>
</g>

<!-- ===== Panel 2: Lineflux Map ===== -->
<g transform="translate(255,532)">
<g clip-path="url(#pc)">
<rect width="148" height="148" fill="#3e4a89"/>
<path d="M0,98 L148,20 L148,148 L0,148 Z" fill="url(#tealG)"/>
<path d="M0,118 L122,56 L148,42 L148,70 L0,132 Z" fill="#22a884" opacity="0.45"/>
<path d="M0,119 L121,57 L128,58 L0,125 Z" fill="#8fd744" opacity="0.8"/>
<path d="M0,98 L126,32 L134,42 L121,57 L0,119 Z" fill="#fde725"/>
<path d="M126,32 L136,28 L140,36 L134,42 Z" fill="#b5de2b" opacity="0.8"/>
<ellipse cx="72" cy="129" rx="17" ry="21" transform="rotate(-20 72 129)" fill="url(#blob)"/>
<ellipse cx="137" cy="128" rx="14" ry="15" fill="url(#blob)"/>
<rect x="24.7" y="24.7" width="98.6" height="98.6" fill="none" stroke="#ff0000" stroke-width="1.2"/>
<path d="M36.2,74H65.8M82.2,74H111.8M74,36.2V65.8M74,82.2V111.8" stroke="#ff0000" stroke-width="1.3"/>
<text class="rd" x="74" y="13.5">N</text>
<text class="rd" x="9" y="78">E</text>
</g>
<rect width="148" height="148" fill="none" stroke="#000" stroke-width="0.8"/>
<path d="M8.2,148V151.5M41.1,148V151.5M74,148V151.5M106.9,148V151.5M139.8,148V151.5M0,8.2H-3.5M0,41.1H-3.5M0,74H-3.5M0,106.9H-3.5M0,139.8H-3.5" stroke="#000" stroke-width="0.8"/>
<text class="tm" x="8.2" y="165">−4</text><text class="tm" x="41.1" y="165">−2</text><text class="tm" x="74" y="165">0</text><text class="tm" x="106.9" y="165">2</text><text class="tm" x="139.8" y="165">4</text>
<text class="tr" x="-5" y="12">4</text><text class="tr" x="-5" y="44.9">2</text><text class="tr" x="-5" y="77.8">0</text><text class="tr" x="-5" y="110.7">−2</text><text class="tr" x="-5" y="143.6">−4</text>
<text class="tt" x="74" y="-6.5">Lineflux Map</text>
<text class="tm" x="74" y="174.5">s/b: 10.31 +/- 0.208</text>
</g>

<!-- ===== Panel 3: g ===== -->
<g transform="translate(440,532)">
<g clip-path="url(#pc)">
<rect width="148" height="148" fill="#fff"/>
<rect x="0" y="0" width="148" height="125" fill="url(#fadeG)"/>
<rect x="72" y="0" width="18" height="40" fill="#3a3a3a"/>
<rect x="72" y="40" width="18" height="14" fill="url(#fB)" opacity="0.77"/>
<rect x="90" y="0" width="28" height="38" fill="#8a8a8a"/>
<rect x="90" y="38" width="28" height="12" fill="url(#fB)" opacity="0.46"/>
<rect x="118" y="0" width="30" height="35" fill="#c6c6c6"/>
<rect x="118" y="35" width="30" height="12" fill="url(#fB)" opacity="0.22"/>
<path d="M0,62 C30,59 60,52 76,40" fill="none" stroke="#555" stroke-width="9" opacity="0.5"/>
<path d="M0,0 H74 V36 C60,48 30,55 0,58 Z" fill="#000"/>
<ellipse cx="41.1" cy="34.2" rx="71.2" ry="59.2" fill="none" stroke="#ffd700" stroke-width="1.3"/>
<rect x="24.7" y="24.7" width="98.6" height="98.6" fill="none" stroke="#ff0000" stroke-width="1.2"/>
<path d="M36.2,74H65.8M82.2,74H111.8M74,36.2V65.8M74,82.2V111.8" stroke="#ff0000" stroke-width="1.3"/>
<text class="rd" x="74" y="13.5">N</text>
<text class="rd" x="9" y="78">E</text>
</g>
<rect width="148" height="148" fill="none" stroke="#000" stroke-width="0.8"/>
<path d="M8.2,148V151.5M41.1,148V151.5M74,148V151.5M106.9,148V151.5M139.8,148V151.5M0,8.2H-3.5M0,41.1H-3.5M0,74H-3.5M0,106.9H-3.5M0,139.8H-3.5" stroke="#000" stroke-width="0.8"/>
<text class="tm" x="8.2" y="165">−4</text><text class="tm" x="41.1" y="165">−2</text><text class="tm" x="74" y="165">0</text><text class="tm" x="106.9" y="165">2</text><text class="tm" x="139.8" y="165">4</text>
<text class="tr" x="-5" y="12">4</text><text class="tr" x="-5" y="44.9">2</text><text class="tr" x="-5" y="77.8">0</text><text class="tr" x="-5" y="110.7">−2</text><text class="tr" x="-5" y="143.6">−4</text>
<text class="tt" x="74" y="-6.5">HSC SSP(26.8) g</text>
<text class="tm" x="74" y="174.5">m:16.1  re:4.1&quot;  s:3.4&quot;</text>
<text class="tm" x="74" y="187">EWr: 0, PLAE: 0.001</text>
</g>

<!-- ===== Panel 4: r ===== -->
<g transform="translate(625,532)">
<g clip-path="url(#pc)">
<rect width="148" height="148" fill="#fff"/>
<rect x="0" y="0" width="148" height="125" fill="url(#fadeG)"/>
<rect x="66" y="0" width="16" height="44" fill="#5a5a5a"/>
<rect x="66" y="44" width="16" height="12" fill="url(#fB)" opacity="0.65"/>
<rect x="82" y="0" width="36" height="40" fill="#a8a8a8"/>
<rect x="82" y="40" width="36" height="12" fill="url(#fB)" opacity="0.34"/>
<rect x="118" y="0" width="30" height="36" fill="#cdcdcd"/>
<rect x="118" y="36" width="30" height="12" fill="url(#fB)" opacity="0.2"/>
<rect x="0" y="54" width="14" height="22" fill="#777"/>
<rect x="0" y="76" width="14" height="12" fill="url(#fB)" opacity="0.53"/>
<path d="M0,62 C25,59 52,56 69,49" fill="none" stroke="#555" stroke-width="9" opacity="0.5"/>
<path d="M0,0 H67 V46 C52,52 25,55 0,58 Z" fill="#000"/>
<ellipse cx="35.2" cy="37.8" rx="77.8" ry="60.8" fill="none" stroke="#ffd700" stroke-width="1.3"/>
<rect x="24.7" y="24.7" width="98.6" height="98.6" fill="none" stroke="#ff0000" stroke-width="1.2"/>
<path d="M36.2,74H65.8M82.2,74H111.8M74,36.2V65.8M74,82.2V111.8" stroke="#ff0000" stroke-width="1.3"/>
<text class="rd" x="74" y="13.5">N</text>
<text class="rd" x="9" y="78">E</text>
</g>
<rect width="148" height="148" fill="none" stroke="#000" stroke-width="0.8"/>
<path d="M8.2,148V151.5M41.1,148V151.5M74,148V151.5M106.9,148V151.5M139.8,148V151.5M0,8.2H-3.5M0,41.1H-3.5M0,74H-3.5M0,106.9H-3.5M0,139.8H-3.5" stroke="#000" stroke-width="0.8"/>
<text class="tm" x="8.2" y="165">−4</text><text class="tm" x="41.1" y="165">−2</text><text class="tm" x="74" y="165">0</text><text class="tm" x="106.9" y="165">2</text><text class="tm" x="139.8" y="165">4</text>
<text class="tr" x="-5" y="12">4</text><text class="tr" x="-5" y="44.9">2</text><text class="tr" x="-5" y="77.8">0</text><text class="tr" x="-5" y="110.7">−2</text><text class="tr" x="-5" y="143.6">−4</text>
<text class="tt" x="74" y="-6.5">HSC SSP(26.4) r</text>
<text class="tm" x="74" y="174.5">m:16.0  re:4.3&quot;  s:3.4&quot;</text>
<text class="tm" x="74" y="187">EWr: 0, PLAE: 0.001</text>
</g>

<!-- ===== Panel 5: i ===== -->
<g transform="translate(810,532)">
<g clip-path="url(#pc)">
<rect width="148" height="148" fill="#fff"/>
<rect x="0" y="0" width="148" height="120" fill="url(#fadeG)"/>
<rect x="0" y="0" width="19" height="42" fill="#444"/>
<rect x="19" y="0" width="13" height="42" fill="#1a1a1a"/>
<rect x="32" y="0" width="12" height="42" fill="#707070"/>
<rect x="44" y="0" width="22" height="42" fill="#111"/>
<rect x="66" y="0" width="11" height="42" fill="#555"/>
<rect x="77" y="0" width="71" height="34" fill="#c2c2c2"/>
<rect x="77" y="34" width="71" height="12" fill="url(#fB)" opacity="0.24"/>
<rect x="110" y="32" width="26" height="8" fill="#888"/>
<path d="M0,60 Q30,63 60,59 Q80,60 99,52" fill="none" stroke="#666" stroke-width="9" opacity="0.5"/>
<path d="M0,36 H96 V48 Q80,56 60,55 Q30,58 0,56 Z" fill="#080808"/>
<ellipse cx="24.7" cy="49.3" rx="21" ry="53" transform="rotate(20 24.7 49.3)" fill="none" stroke="#eeeeee" stroke-width="1.2" stroke-dasharray="4 2"/>
<ellipse cx="49.3" cy="29.6" rx="32.9" ry="51" fill="none" stroke="#ffd700" stroke-width="1.3"/>
<rect x="24.7" y="24.7" width="98.6" height="98.6" fill="none" stroke="#ff0000" stroke-width="1.2"/>
<path d="M36.2,74H65.8M82.2,74H111.8M74,36.2V65.8M74,82.2V111.8" stroke="#ff0000" stroke-width="1.3"/>
<text class="rd" x="74" y="13.5">N</text>
<text class="rd" x="9" y="78">E</text>
</g>
<rect width="148" height="148" fill="none" stroke="#000" stroke-width="0.8"/>
<path d="M8.2,148V151.5M41.1,148V151.5M74,148V151.5M106.9,148V151.5M139.8,148V151.5M0,8.2H-3.5M0,41.1H-3.5M0,74H-3.5M0,106.9H-3.5M0,139.8H-3.5" stroke="#000" stroke-width="0.8"/>
<text class="tm" x="8.2" y="165">−4</text><text class="tm" x="41.1" y="165">−2</text><text class="tm" x="74" y="165">0</text><text class="tm" x="106.9" y="165">2</text><text class="tm" x="139.8" y="165">4</text>
<text class="tr" x="-5" y="12">4</text><text class="tr" x="-5" y="44.9">2</text><text class="tr" x="-5" y="77.8">0</text><text class="tr" x="-5" y="110.7">−2</text><text class="tr" x="-5" y="143.6">−4</text>
<text class="tt" x="74" y="-6.5">HSC SSP(26.4) i</text>
<text class="tm" x="74" y="174.5">m:16.1  re:2.6&quot;  s:3.3&quot;</text>
</g>

<!-- ===== Panel 6: z ===== -->
<g transform="translate(995,532)">
<g clip-path="url(#pc)">
<rect width="148" height="148" fill="#fff"/>
<rect x="0" y="0" width="148" height="120" fill="url(#fadeG)"/>
<rect x="60" y="0" width="32" height="40" fill="#727272"/>
<rect x="60" y="40" width="32" height="12" fill="url(#fB)" opacity="0.55"/>
<rect x="92" y="0" width="56" height="34" fill="#cacaca"/>
<rect x="92" y="34" width="56" height="12" fill="url(#fB)" opacity="0.2"/>
<path d="M0,70 Q6,66 14,64 H42 Q66,64 66,38" fill="none" stroke="#555" stroke-width="9" opacity="0.5"/>
<path d="M0,0 H62 V38 Q62,60 40,60 H12 Q4,63 0,66 Z" fill="#000"/>
<rect x="86" y="35" width="6" height="7" fill="#555"/>
<ellipse cx="43.9" cy="34.5" rx="74.8" ry="69" fill="none" stroke="#ffd700" stroke-width="1.3"/>
<rect x="24.7" y="24.7" width="98.6" height="98.6" fill="none" stroke="#ff0000" stroke-width="1.2"/>
<path d="M36.2,74H65.8M82.2,74H111.8M74,36.2V65.8M74,82.2V111.8" stroke="#ff0000" stroke-width="1.3"/>
<text class="rd" x="74" y="13.5">N</text>
<text class="rd" x="9" y="78">E</text>
</g>
<rect width="148" height="148" fill="none" stroke="#000" stroke-width="0.8"/>
<path d="M8.2,148V151.5M41.1,148V151.5M74,148V151.5M106.9,148V151.5M139.8,148V151.5M0,8.2H-3.5M0,41.1H-3.5M0,74H-3.5M0,106.9H-3.5M0,139.8H-3.5" stroke="#000" stroke-width="0.8"/>
<text class="tm" x="8.2" y="165">−4</text><text class="tm" x="41.1" y="165">−2</text><text class="tm" x="74" y="165">0</text><text class="tm" x="106.9" y="165">2</text><text class="tm" x="139.8" y="165">4</text>
<text class="tr" x="-5" y="12">4</text><text class="tr" x="-5" y="44.9">2</text><text class="tr" x="-5" y="77.8">0</text><text class="tr" x="-5" y="110.7">−2</text><text class="tr" x="-5" y="143.6">−4</text>
<text class="tt" x="74" y="-6.5">HSC SSP(25.5) z</text>
<text class="tm" x="74" y="174.5">m:15.1  re:4.4&quot;  s:3.1&quot;</text>
</g>

<!-- ===== Panel 7: y ===== -->
<g transform="translate(1180,532)">
<g clip-path="url(#pc)">
<rect width="148" height="148" fill="#fff"/>
<rect x="0" y="0" width="148" height="120" fill="url(#fadeG)"/>
<rect x="0" y="0" width="21" height="48" fill="#585858"/>
<rect x="0" y="48" width="21" height="14" fill="url(#fB)" opacity="0.65"/>
<rect x="41" y="0" width="30" height="48" fill="#606060"/>
<rect x="41" y="48" width="30" height="14" fill="url(#fB)" opacity="0.62"/>
<rect x="71" y="0" width="77" height="34" fill="#c8c8c8"/>
<rect x="71" y="34" width="77" height="12" fill="url(#fB)" opacity="0.22"/>
<rect x="16" y="105" width="30" height="43" fill="#b0b0b0"/>
<rect x="21" y="0" width="20" height="112" fill="#000"/>
<rect x="21" y="112" width="20" height="36" fill="url(#fB)" opacity="0.8"/>
<ellipse cx="29.6" cy="28" rx="68.6" ry="103.6" fill="none" stroke="#ffd700" stroke-width="1.3"/>
<rect x="24.7" y="24.7" width="98.6" height="98.6" fill="none" stroke="#ff0000" stroke-width="1.2"/>
<path d="M36.2,74H65.8M82.2,74H111.8M74,36.2V65.8M74,82.2V111.8" stroke="#ff0000" stroke-width="1.3"/>
<text class="rd" x="74" y="13.5">N</text>
<text class="rd" x="9" y="78">E</text>
</g>
<rect width="148" height="148" fill="none" stroke="#000" stroke-width="0.8"/>
<path d="M8.2,148V151.5M41.1,148V151.5M74,148V151.5M106.9,148V151.5M139.8,148V151.5M0,8.2H-3.5M0,41.1H-3.5M0,74H-3.5M0,106.9H-3.5M0,139.8H-3.5" stroke="#000" stroke-width="0.8"/>
<text class="tm" x="8.2" y="165">−4</text><text class="tm" x="41.1" y="165">−2</text><text class="tm" x="74" y="165">0</text><text class="tm" x="106.9" y="165">2</text><text class="tm" x="139.8" y="165">4</text>
<text class="tr" x="-5" y="12">4</text><text class="tr" x="-5" y="44.9">2</text><text class="tr" x="-5" y="77.8">0</text><text class="tr" x="-5" y="110.7">−2</text><text class="tr" x="-5" y="143.6">−4</text>
<text class="tt" x="74" y="-6.5">HSC SSP(24.7) y</text>
<text class="tm" x="74" y="174.5">m:14.4  re:4.5&quot;  s:3.0&quot;</text>
</g>

<!-- ===== bottom text ===== -->
<text class="m" x="70" y="888.5">No matching targets in catalog.</text>
<text class="m" x="70" y="903.5">Row intentionally blank.</text>
</svg>
</body></html>
